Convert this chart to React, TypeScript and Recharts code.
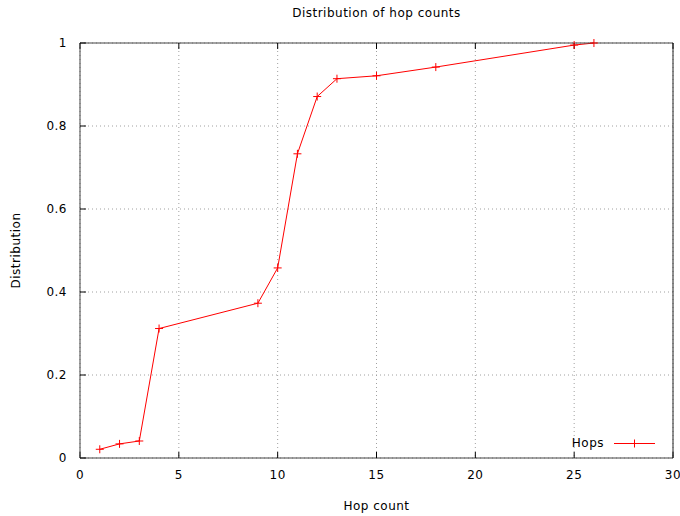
import { LineChart, Line, XAxis, YAxis, CartesianGrid, Legend, Label } from "recharts";

const hopCounts = [1, 2, 3, 4, 9, 10, 11, 12, 13, 15, 18, 25, 26];
const distribution = [0.021, 0.034, 0.041, 0.312, 0.373, 0.458, 0.733, 0.871, 0.914, 0.921, 0.942, 0.995, 1.0];
const xTicks = [0, 5, 10, 15, 20, 25, 30];
const yTicks = [0, 0.2, 0.4, 0.6, 0.8, 1];

const chartData = hopCounts.map((hops, i) => ({ hops, dist: distribution[i] }));

const FONT = "'DejaVu Sans', sans-serif";
const textStyle = { fontFamily: FONT, fontSize: 12, fill: "#000", letterSpacing: 0.5 };

function PlusDot(props: any) {
  const { cx, cy, index } = props;
  if (cx == null || cy == null) return null;
  return (
    <g key={index}>
      <line x1={cx - 4} y1={cy} x2={cx + 4} y2={cy} stroke="#ff0000" strokeWidth={1} />
      <line x1={cx} y1={cy - 4} x2={cx} y2={cy + 4} stroke="#ff0000" strokeWidth={1} />
    </g>
  );
}

function HopsLegend() {
  return (
    <div style={{ display: "flex", alignItems: "center", fontFamily: FONT, fontSize: 12, letterSpacing: 0.5 }}>
      <span style={{ width: 50, textAlign: "right", marginRight: 10 }}>Hops</span>
      <svg width={41} height={9}>
        <line x1={0} y1={4.5} x2={41} y2={4.5} stroke="#ff0000" strokeWidth={1} />
        <line x1={20.5} y1={0.5} x2={20.5} y2={8.5} stroke="#ff0000" strokeWidth={1} />
      </svg>
    </div>
  );
}

export default function App() {
  return (
    <div style={{ position: "absolute", left: 0, top: 0, width: 680, height: 516, background: "#fff" }}>
      <div
        style={{
          position: "absolute",
          top: 6,
          left: 80,
          width: 593,
          textAlign: "center",
          fontFamily: FONT,
          fontSize: 12,
          letterSpacing: 0.5,
        }}
      >
        Distribution of hop counts
      </div>
      <LineChart width={680} height={516} data={chartData} margin={{ top: 42, right: 6, bottom: 0, left: 0 }}>
        <CartesianGrid stroke="#a0a0a0" strokeDasharray="1 3" />
        <XAxis
          dataKey="hops"
          type="number"
          domain={[0, 30]}
          ticks={xTicks}
          height={58}
          tickSize={-6}
          tickMargin={18}
          stroke="#444"
          tickLine={{ stroke: "#000" }}
          tick={textStyle}
        >
          <Label value="Hop count" position="insideBottom" offset={6} style={textStyle} />
        </XAxis>
        <XAxis
          xAxisId="top"
          orientation="top"
          dataKey="hops"
          type="number"
          domain={[0, 30]}
          ticks={xTicks}
          height={1}
          tickSize={-6}
          stroke="#444"
          tickLine={{ stroke: "#000" }}
          tick={() => null}
        />
        <YAxis
          type="number"
          domain={[0, 1]}
          ticks={yTicks}
          width={80}
          tickSize={-6}
          tickMargin={19}
          stroke="#444"
          tickLine={{ stroke: "#000" }}
          tick={textStyle}
        >
          <Label value="Distribution" angle={-90} position="center" dx={-24} style={textStyle} />
        </YAxis>
        <YAxis
          yAxisId="right"
          orientation="right"
          type="number"
          domain={[0, 1]}
          ticks={yTicks}
          width={1}
          tickSize={-6}
          stroke="#222"
          tickLine={{ stroke: "#000" }}
          tick={() => null}
        />
        <Legend
          layout="vertical"
          align="center"
          verticalAlign="middle"
          content={() => <HopsLegend />}
          wrapperStyle={{ position: "absolute", left: 554, top: 436, width: 110 }}
        />
        <Line
          type="linear"
          dataKey="dist"
          stroke="#ff0000"
          strokeWidth={1}
          dot={PlusDot}
          activeDot={false}
          isAnimationActive={false}
        />
      </LineChart>
    </div>
  );
}
